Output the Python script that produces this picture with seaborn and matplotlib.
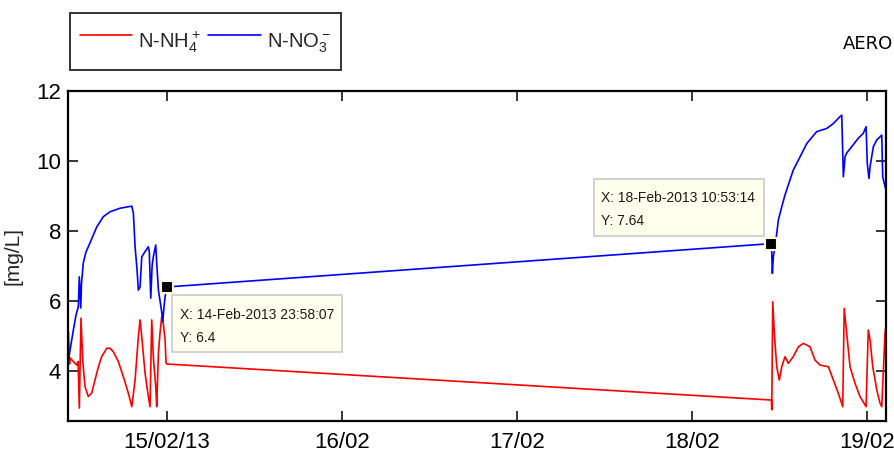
import matplotlib
matplotlib.use("Agg")
import matplotlib.pyplot as plt
import matplotlib.dates as mdates
import matplotlib.transforms as mtransforms
from matplotlib.lines import Line2D
from matplotlib.patches import Rectangle
import numpy as np
import pandas as pd
import seaborn as sns

# N-NH4+ samples (timestamp, mg/L)
nh4_time = [
    "2013-02-14 10:29", "2013-02-14 10:37", "2013-02-14 10:42", "2013-02-14 11:09",
    "2013-02-14 11:37", "2013-02-14 11:48", "2013-02-14 11:58", "2013-02-14 12:12",
    "2013-02-14 12:26", "2013-02-14 12:45", "2013-02-14 13:12", "2013-02-14 13:40",
    "2013-02-14 14:07", "2013-02-14 14:35", "2013-02-14 15:02", "2013-02-14 15:44",
    "2013-02-14 16:11", "2013-02-14 16:38", "2013-02-14 17:19", "2013-02-14 18:00",
    "2013-02-14 18:42", "2013-02-14 19:10", "2013-02-14 19:37", "2013-02-14 20:04",
    "2013-02-14 20:18", "2013-02-14 20:32", "2013-02-14 20:59", "2013-02-14 21:26",
    "2013-02-14 21:40", "2013-02-14 21:54", "2013-02-14 22:07", "2013-02-14 22:27",
    "2013-02-14 22:35", "2013-02-14 22:49", "2013-02-14 23:02", "2013-02-14 23:16",
    "2013-02-14 23:29", "2013-02-14 23:44", "2013-02-14 23:52", "2013-02-14 23:58",
    "2013-02-18 10:53", "2013-02-18 10:56", "2013-02-18 11:04", "2013-02-18 11:17",
    "2013-02-18 11:37", "2013-02-18 11:58", "2013-02-18 12:18", "2013-02-18 12:45",
    "2013-02-18 13:12", "2013-02-18 13:53", "2013-02-18 14:35", "2013-02-18 15:16",
    "2013-02-18 16:11", "2013-02-18 16:52", "2013-02-18 17:33", "2013-02-18 18:42",
    "2013-02-18 19:23", "2013-02-18 20:04", "2013-02-18 20:40", "2013-02-18 20:52",
    "2013-02-18 21:07", "2013-02-18 21:40", "2013-02-18 22:21", "2013-02-18 23:02",
    "2013-02-18 23:35", "2013-02-18 23:52", "2013-02-19 00:10", "2013-02-19 00:25",
    "2013-02-19 00:47", "2013-02-19 01:20", "2013-02-19 01:47", "2013-02-19 02:01",
    "2013-02-19 02:28", "2013-02-19 02:42", "2013-02-19 02:53",
]
nh4_value = [
    5.10, 4.20, 4.37, 4.27, 4.17, 4.27, 2.94, 5.51,
    4.31, 3.55, 3.27, 3.37, 3.74, 4.12, 4.41, 4.65,
    4.65, 4.55, 4.27, 3.84, 3.36, 2.98, 3.74, 4.98,
    5.46, 4.98, 3.94, 3.27, 2.98, 5.46, 4.41, 3.55,
    2.98, 4.51, 5.08, 5.55, 5.36, 4.88, 4.22, 4.20,
    3.17, 2.89, 5.98, 5.08, 4.12, 3.74, 4.12, 4.41,
    4.22, 4.41, 4.69, 4.79, 4.69, 4.31, 4.17, 4.12,
    3.74, 3.36, 2.98, 5.79, 5.27, 4.12, 3.65, 3.27,
    3.08, 2.98, 5.17, 4.88, 4.12, 3.46, 3.08, 2.98,
    5.08, 5.46, 5.27,
]

# N-NO3- samples (timestamp, mg/L)
no3_time = [
    "2013-02-14 10:29", "2013-02-14 10:42", "2013-02-14 11:09", "2013-02-14 11:31",
    "2013-02-14 11:50", "2013-02-14 11:58", "2013-02-14 12:10", "2013-02-14 12:16",
    "2013-02-14 12:31", "2013-02-14 12:53", "2013-02-14 13:26", "2013-02-14 14:22",
    "2013-02-14 15:16", "2013-02-14 16:11", "2013-02-14 17:33", "2013-02-14 19:10",
    "2013-02-14 19:23", "2013-02-14 19:37", "2013-02-14 19:53", "2013-02-14 20:04",
    "2013-02-14 20:18", "2013-02-14 20:32", "2013-02-14 20:59", "2013-02-14 21:26",
    "2013-02-14 21:34", "2013-02-14 21:46", "2013-02-14 21:57", "2013-02-14 22:07",
    "2013-02-14 22:27", "2013-02-14 22:35", "2013-02-14 22:49", "2013-02-14 23:16",
    "2013-02-14 23:25", "2013-02-14 23:35", "2013-02-14 23:44", "2013-02-14 23:58:07",
    "2013-02-18 10:53:14", "2013-02-18 11:01", "2013-02-18 11:09", "2013-02-18 11:37",
    "2013-02-18 11:50", "2013-02-18 12:18", "2013-02-18 12:45", "2013-02-18 13:26",
    "2013-02-18 13:53", "2013-02-18 14:49", "2013-02-18 15:44", "2013-02-18 17:06",
    "2013-02-18 18:28", "2013-02-18 19:23", "2013-02-18 20:18", "2013-02-18 20:32",
    "2013-02-18 20:45", "2013-02-18 20:59", "2013-02-18 21:13", "2013-02-18 21:54",
    "2013-02-18 22:48", "2013-02-18 23:29", "2013-02-18 23:52", "2013-02-19 00:02",
    "2013-02-19 00:16", "2013-02-19 00:25", "2013-02-19 00:52", "2013-02-19 01:20",
    "2013-02-19 02:01", "2013-02-19 02:09", "2013-02-19 02:28", "2013-02-19 02:42",
    "2013-02-19 02:53",
]
no3_value = [
    4.31, 4.60, 5.17, 5.60, 5.84, 6.69, 5.80, 6.50,
    7.09, 7.40, 7.66, 8.12, 8.41, 8.55, 8.65, 8.71,
    8.51, 7.55, 6.90, 6.31, 6.40, 7.26, 7.41, 7.55,
    7.40, 6.08, 7.00, 7.26, 7.60, 7.08, 6.31, 5.69,
    5.41, 5.84, 6.12, 6.40,
    7.64, 6.79, 7.26, 7.93, 8.31, 8.69, 9.03, 9.46,
    9.74, 10.12, 10.50, 10.84, 10.93, 11.07, 11.27, 11.31,
    9.55, 10.12, 10.23, 10.41, 10.65, 10.79, 10.98, 9.93,
    9.50, 9.84, 10.41, 10.60, 10.74, 9.55, 9.27, 9.12,
    9.50,
]

# Data tips pinned on the nitrate series
tip_time = ["2013-02-14 23:58:07", "2013-02-18 10:53:14"]
tip_value = [6.4, 7.64]
tip_xlabel = ["X: 14-Feb-2013 23:58:07", "X: 18-Feb-2013 10:53:14"]
tip_ylabel = ["Y: 6.4", "Y: 7.64"]

# Axis ticks
tick_dates = ["2013-02-15", "2013-02-16", "2013-02-17", "2013-02-18", "2013-02-19"]
tick_labels = ["15/02/13", "16/02", "17/02", "18/02", "19/02"]
y_ticks = [4, 6, 8, 10, 12]

series_names = ["N-NH$_4^+$", "N-NO$_3^-$"]
series_colors = ["#ff0000", "#0000ff"]

sns.set_theme(style="white")
plt.rcParams["font.family"] = ["Liberation Sans", "DejaVu Sans"]
plt.rcParams["mathtext.default"] = "regular"

DPI = 100


def to_time(values):
    return pd.to_datetime(values, format="mixed")


df = pd.concat([
    pd.DataFrame({"time": to_time(nh4_time), "value": nh4_value, "series": series_names[0]}),
    pd.DataFrame({"time": to_time(no3_time), "value": no3_value, "series": series_names[1]}),
], ignore_index=True)

fig = plt.figure(figsize=(8.94, 4.53), dpi=DPI)
ax = fig.add_axes([68 / 894, 1 - 421 / 453, (886 - 68) / 894, (421 - 91) / 453])

sns.lineplot(data=df, x="time", y="value", hue="series", hue_order=series_names,
             palette=dict(zip(series_names, series_colors)), estimator=None,
             sort=False, linewidth=1.2, legend=False, ax=ax)

# Data tip markers
tt = to_time(tip_time)
ax.plot(tt, tip_value, linestyle="none", marker="s", markersize=8,
        markerfacecolor="black", markeredgecolor="#fffbd8", markeredgewidth=1.5, zorder=5)


def datatip(xval, yval, box_px, text_px, lines):
    """Box and text placed in pixel offsets from the tipped data point."""
    anchor = mtransforms.ScaledTranslation(mdates.date2num(xval), yval, ax.transData)
    trans = fig.dpi_scale_trans + anchor
    x0, y0, w, h = (v / DPI for v in box_px)
    ax.add_patch(Rectangle((x0, y0), w, h, transform=trans, facecolor="#ffffee",
                           edgecolor="#cfcfcf", linewidth=1.3, zorder=6, clip_on=False))
    tx = text_px[0] / DPI
    for base, line in zip(text_px[1:], lines):
        ax.text(tx, base / DPI, line, transform=trans, fontsize=10, ha="left",
                va="baseline", color="#1a1a1a", zorder=7, clip_on=False)


datatip(tt[0], tip_value[0], (5.5, -65, 170, 57), (13.5, -32, -54.7),
        (tip_xlabel[0], tip_ylabel[0]))
datatip(tt[1], tip_value[1], (-177, 7.6, 170, 57), (-170, 41.3, 18.6),
        (tip_xlabel[1], tip_ylabel[1]))

ax.set_xlim(pd.Timestamp("2013-02-14 10:25"), pd.Timestamp("2013-02-19 02:36"))
ax.set_ylim(2.571, 12)
ax.set_xticks(mdates.date2num(pd.to_datetime(tick_dates)))
ax.set_xticklabels(tick_labels)
ax.set_yticks(y_ticks)
ax.set_xlabel("")
ax.set_ylabel("[mg/L]", fontsize=15)
ax.yaxis.set_label_coords(-0.056, 0.5)

ax.tick_params(axis="both", which="both", direction="in", length=7, width=1.1,
               top=True, right=True, bottom=True, left=True, labelsize=16, colors="black")
ax.tick_params(axis="x", pad=8)
ax.tick_params(axis="y", pad=5)
for s in ax.spines.values():
    s.set_visible(True)
    s.set_color("black")
    s.set_linewidth(1.6)

handles = [Line2D([], [], color=c, linewidth=1.2) for c in series_colors]
leg = fig.legend(handles, series_names, loc="upper left", bbox_to_anchor=(70 / 894, 1 - 12.7 / 453),
                 ncol=2, fontsize=14.5, frameon=True, fancybox=False, edgecolor="black",
                 handlelength=2.6, handleheight=2.5, handletextpad=0.3, columnspacing=0.35,
                 borderpad=0.5, borderaxespad=0)
leg.get_frame().set_linewidth(1.4)

fig.text(843 / 894, 1 - 44 / 453, "AERO", fontsize=13, family="DejaVu Sans",
         ha="left", va="center", color="black")

fig.savefig("out.png", dpi=DPI)
